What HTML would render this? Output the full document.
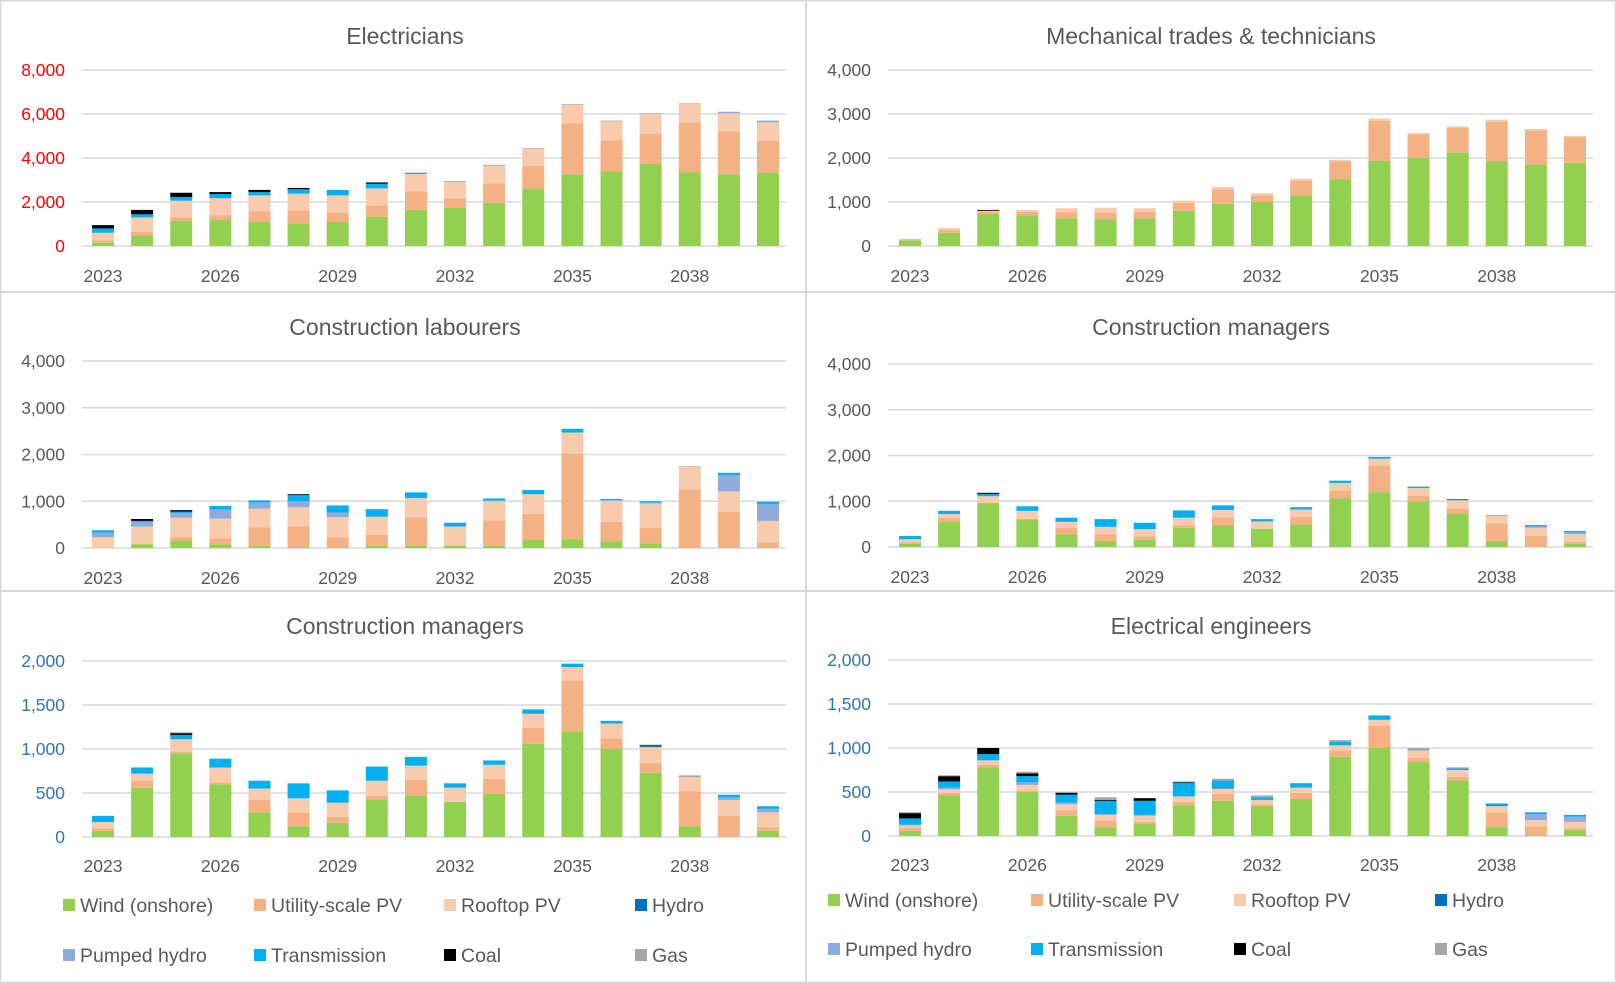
<!DOCTYPE html>
<html><head><meta charset="utf-8">
<style>
html,body{margin:0;padding:0;background:#fff;}
svg{display:block;font-family:"Liberation Sans",sans-serif;}
</style></head>
<body>
<svg id="c" width="1616" height="983" viewBox="0 0 1616 983"></svg>
<script>
const years = [2023,2024,2025,2026,2027,2028,2029,2030,2031,2032,2033,2034,2035,2036,2037,2038,2039,2040];
const seriesNames = ["Wind (onshore)","Utility-scale PV","Rooftop PV","Hydro","Pumped hydro","Transmission","Coal","Gas"];
const seriesColors = ["#92d050","#f4b183","#f8cbad","#0070c0","#8faadc","#00b0f0","#000000","#a5a5a5"];
// Electricians: [wind, utilPV, rooftop, hydro, pumped, transmission, coal, gas] per year
const electricians = [
[150,100,350,0,0,200,150,0],[480,160,660,0,0,140,200,0],[1140,160,760,0,0,170,190,0],[1180,220,770,0,0,190,90,0],
[1090,490,720,0,0,150,100,0],[1030,590,760,0,0,200,60,0],[1090,440,770,0,0,250,0,0],[1330,520,770,0,0,210,60,0],
[1640,840,790,0,0,60,0,0],[1730,440,740,0,0,0,0,40],[1950,900,800,0,0,0,0,40],[2590,1050,770,0,0,0,0,30],
[3260,2320,840,0,0,0,0,30],[3390,1410,870,0,0,0,0,30],[3730,1360,910,0,0,0,0,30],[3360,2260,830,0,0,0,0,30],
[3260,1950,820,0,70,0,0,0],[3320,1470,830,0,80,0,0,0]];
const mechanical = [
[120,30,10,0,0,0,0,0],[300,60,50,0,0,0,0,0],[730,50,20,0,0,0,20,0],[700,80,40,0,0,0,0,0],
[630,140,90,0,0,0,0,0],[610,150,110,0,0,0,0,0],[630,150,80,0,0,0,0,0],[800,180,50,0,0,0,0,0],
[960,330,50,0,0,0,0,0],[1000,150,50,0,0,0,0,0],[1150,330,50,0,0,0,0,0],[1520,400,40,0,0,0,0,0],
[1940,900,60,0,0,0,0,0],[2000,540,30,0,0,0,0,0],[2130,560,30,0,0,0,0,0],[1920,900,50,0,0,0,0,0],
[1850,780,30,0,0,0,0,0],[1890,580,30,0,0,0,0,0]];
const labourers = [
[0,0,230,0,100,50,0,0],[80,10,370,0,100,20,40,0],[150,80,420,0,100,30,30,0],[80,130,420,0,190,80,0,0],
[40,400,400,0,130,50,0,0],[20,440,410,0,130,130,20,0],[0,230,430,0,100,150,0,0],[50,230,390,0,0,160,0,0],
[50,610,410,0,0,120,0,0],[50,0,410,0,0,80,0,0],[50,540,420,0,0,50,0,0],[170,560,420,0,0,90,0,0],
[190,1830,450,0,0,80,0,0],[140,420,450,0,10,30,0,0],[100,330,520,0,20,30,0,0],[0,1250,490,0,0,0,0,10],
[0,770,440,0,350,50,0,0],[0,120,460,0,360,50,0,0]];
const managers = [
[70,30,70,0,0,70,0,0],[560,80,80,0,0,70,0,0],[950,20,140,0,0,50,20,10],[600,20,170,0,0,100,0,0],
[280,140,130,0,0,90,0,0],[120,160,160,0,0,170,0,0],[160,70,160,0,0,140,0,0],[420,50,170,0,0,160,0,0],
[470,180,160,0,0,100,0,0],[400,0,160,0,0,50,0,0],[490,170,160,0,0,50,0,0],[1060,180,160,0,0,50,0,0],
[1200,580,150,0,0,40,0,0],[1000,120,170,0,0,30,0,0],[730,110,180,0,0,10,10,10],[120,400,160,0,0,0,0,20],
[0,240,180,0,30,30,0,0],[70,40,170,0,40,30,0,0]];
const engineers = [
[60,30,30,0,10,70,60,10],[460,30,40,0,20,70,60,10],[780,30,50,0,0,70,70,0],[500,20,60,0,30,70,30,20],
[230,60,70,0,20,90,20,10],[100,70,70,0,10,150,10,30],[140,20,70,0,10,160,30,0],[350,40,60,0,0,150,10,10],
[400,80,60,10,0,80,0,20],[340,20,50,0,0,30,0,20],[420,70,60,5,0,45,0,0],[900,70,60,0,0,40,0,20],
[1000,250,70,0,0,50,0,0],[840,50,80,0,0,0,0,30],[630,40,80,0,0,20,0,10],[100,170,70,10,0,20,0,0],
[10,100,70,0,70,20,0,0],[70,20,70,0,60,20,0,0]];
const ticks8000 = [0,2000,4000,6000,8000];
const ticks4000 = [0,1000,2000,3000,4000];
const ticks2000 = [0,500,1000,1500,2000];

const NS="http://www.w3.org/2000/svg";
const svg=document.getElementById('c');
function mk(tag,attrs,parent){const e=document.createElementNS(NS,tag);for(const k in attrs)e.setAttribute(k,attrs[k]);(parent||svg).appendChild(e);return e;}

// panel frames
mk('rect',{x:0.5,y:0.5,width:1615,height:982,fill:'none',stroke:'#d9d9d9','stroke-width':2});
const dv=mk('line',{x1:806,y1:0,x2:806,y2:983,stroke:'#d9d9d9','stroke-width':2});


mk('line',{x1:0,y1:292,x2:1616,y2:292,stroke:'#d9d9d9','stroke-width':2});
mk('line',{x1:0,y1:591,x2:1616,y2:591,stroke:'#d9d9d9','stroke-width':2});

function panel(p){
  const g=mk('g',{});
  
  
  const maxV=p.ticks[p.ticks.length-1];
  const yS=v=>p.y0-(v/maxV)*(p.y0-p.yTop);
  const step=(p.cLast-p.cFirst)/(years.length-1);
  const xS=i=>p.cFirst+i*step;
  const t=mk('text',{x:p.tx,y:p.ty,'text-anchor':'middle','font-size':23,fill:'#595959'},g);
  t.textContent=p.title;
  
  
  p.ticks.forEach(v=>{
    const gl=mk('line',{x1:p.L,x2:p.R,y1:yS(v),y2:yS(v),stroke:'#d9d9d9','stroke-width':1.5},g);
    
    
    const tl=mk('text',{x:p.L-17,y:yS(v)+6,'text-anchor':'end','font-size':17.5,fill:p.tickColor},g);
    tl.textContent=v.toLocaleString('en-US');
    
    
  });
  p.data.forEach((row,i)=>{
    let acc=0;
    row.forEach((v,s)=>{
      if(v<=0)return;
      const r=mk('rect',{x:xS(i)-11,y:yS(acc+v),width:22,height:yS(acc)-yS(acc+v),fill:seriesColors[s]},g);
      
      
      acc+=v;
    });
    if(i%3===0){
      const yl=mk('text',{x:xS(i),y:p.yl,'text-anchor':'middle','font-size':17.5,fill:'#595959'},g);
      yl.textContent=years[i];
      
      
    }
  });
  if(p.legend){
    const lg=p.legend;
    seriesNames.forEach((n,s)=>{
      const lx=lg.xs[s%4], ly=s<4?lg.y1:lg.y2;
      const e=mk('g',{},g);
      
      
      mk('rect',{x:lx,y:ly-13,width:12,height:12,fill:seriesColors[s]},e);
      const tx=mk('text',{x:lx+17,y:ly,'font-size':19.5,fill:'#595959'},e);
      tx.textContent=n;
    });
  }
}
panel({name:'electricians-panel',title:'Electricians',tx:405,ty:44,data:electricians,ticks:ticks8000,yTop:70,y0:246,L:82,R:786,cFirst:103,cLast:768,yl:282,tickColor:'#ff0000'});
panel({name:'mechanical-trades-panel',title:'Mechanical trades & technicians',tx:1211,ty:44,data:mechanical,ticks:ticks4000,yTop:70,y0:246,L:888,R:1593,cFirst:910,cLast:1575,yl:282,tickColor:'#595959'});
panel({name:'construction-labourers-panel',title:'Construction labourers',tx:405,ty:335,data:labourers,ticks:ticks4000,yTop:361,y0:548,L:82,R:786,cFirst:103,cLast:768,yl:584,tickColor:'#595959'});
panel({name:'construction-managers-panel-right',title:'Construction managers',tx:1211,ty:335,data:managers,ticks:ticks4000,yTop:364,y0:547,L:888,R:1593,cFirst:910,cLast:1575,yl:583,tickColor:'#595959'});
panel({name:'construction-managers-panel-left',title:'Construction managers',tx:405,ty:634,data:managers,ticks:ticks2000,yTop:661,y0:837,L:82,R:786,cFirst:103,cLast:768,yl:872,tickColor:'#2e75b6',
  legend:{xs:[63,254,444,635],y1:912,y2:962}});
panel({name:'electrical-engineers-panel',title:'Electrical engineers',tx:1211,ty:634,data:engineers,ticks:ticks2000,yTop:660,y0:836,L:888,R:1593,cFirst:910,cLast:1575,yl:871,tickColor:'#2e75b6',
  legend:{xs:[828,1031,1234,1435],y1:907,y2:956}});
</script>
</body></html>
